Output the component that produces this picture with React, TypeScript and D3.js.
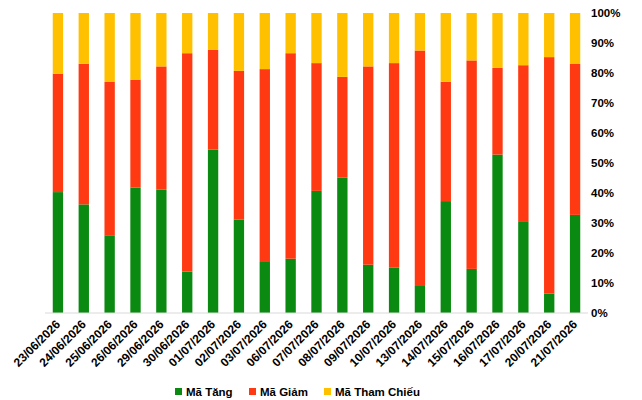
import * as d3 from "d3";

const WIDTH = 642;
const HEIGHT = 400;
const MARGIN = { top: 13, right: 54, bottom: 87, left: 45 };

const dates = [
  "23/06/2026", "24/06/2026", "25/06/2026", "26/06/2026", "29/06/2026",
  "30/06/2026", "01/07/2026", "02/07/2026", "03/07/2026", "06/07/2026",
  "07/07/2026", "08/07/2026", "09/07/2026", "10/07/2026", "13/07/2026",
  "14/07/2026", "15/07/2026", "16/07/2026", "17/07/2026", "20/07/2026",
  "21/07/2026",
];

// percentages
const maTang = [40.3, 36.2, 25.9, 41.8, 41.1, 13.8, 54.5, 31.1, 17.0, 18.1, 40.7, 45.1, 16.1, 15.1, 9.0, 37.3, 14.7, 52.8, 30.6, 6.5, 32.7];
const maGiam = [39.5, 46.9, 51.1, 36.0, 41.1, 72.8, 33.2, 49.6, 64.3, 68.5, 42.6, 33.6, 66.1, 68.2, 78.5, 39.8, 69.5, 28.9, 52.0, 78.8, 50.3];
const maThamChieu = maTang.map((t, i) => 100 - t - maGiam[i]);

const seriesNames = ["Mã Tăng", "Mã Giảm", "Mã Tham Chiếu"];
const colors = ["#0a8a10", "#ff3a12", "#ffc000"];
const yTicks = [0, 10, 20, 30, 40, 50, 60, 70, 80, 90, 100];

const FONT = "'Liberation Sans', Arial, sans-serif";

export default function App() {
  const boundsWidth = WIDTH - MARGIN.left - MARGIN.right;
  const boundsHeight = HEIGHT - MARGIN.top - MARGIN.bottom;

  const xScale = d3.scaleBand().domain(dates).range([0, boundsWidth]).paddingInner(0.6).paddingOuter(0.3);
  const yScale = d3.scaleLinear().domain([0, 100]).range([boundsHeight, 0]);

  const rows = dates.map((d, i) => ({ date: d, tang: maTang[i], giam: maGiam[i], tham: maThamChieu[i] }));
  const stacked = d3.stack<any>().keys(["tang", "giam", "tham"])(rows);

  const legendX = [175, 249, 324];

  return (
    <svg width={WIDTH} height={HEIGHT} style={{ position: "absolute", left: 0, top: 0, fontFamily: FONT }}>
      <g transform={`translate(${MARGIN.left},${MARGIN.top})`}>
        {stacked.map((s, si) =>
          s.map((p, i) => (
            <rect
              key={`${si}-${i}`}
              x={xScale(dates[i])}
              y={yScale(p[1])}
              width={xScale.bandwidth()}
              height={yScale(p[0]) - yScale(p[1])}
              fill={colors[si]}
            />
          ))
        )}
        <line x1={0} x2={boundsWidth} y1={boundsHeight} y2={boundsHeight} stroke="#d9d9d9" strokeWidth={1} />
        {yTicks.map((t) => (
          <text key={t} x={boundsWidth + 3} y={yScale(t)} dy="0.35em" fontSize={11.5} fontWeight="bold" fill="#000">
            {t}%
          </text>
        ))}
        {dates.map((d) => {
          const cx = (xScale(d) ?? 0) + xScale.bandwidth() / 2 + 3;
          const cy = boundsHeight + 12;
          return (
            <text
              key={d}
              transform={`translate(${cx},${cy}) rotate(-45)`}
              textAnchor="end"
              fontSize={12}
              fontWeight="bold"
              fill="#000"
            >
              {d}
            </text>
          );
        })}
      </g>
      {seriesNames.map((n, i) => (
        <g key={n} transform={`translate(${legendX[i]},392)`}>
          <rect x={0} y={-4} width={7} height={7} fill={colors[i]} />
          <text x={11} y={0} dy="0.35em" fontSize={11.5} fontWeight="bold" fill="#000">
            {n}
          </text>
        </g>
      ))}
    </svg>
  );
}
